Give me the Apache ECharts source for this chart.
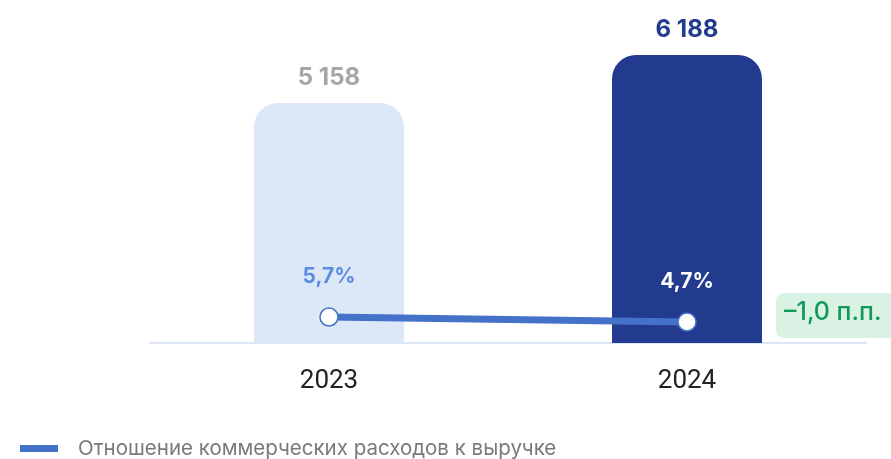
<!DOCTYPE html>
<html><head><meta charset="utf-8">
<script src="https://cdn.jsdelivr.net/npm/echarts@6/dist/echarts.min.js"></script>
<style>html,body{margin:0;padding:0;background:#fff}#c{width:891px;height:459px}</style>
</head><body><div id="c"></div>
<script>
const categories = ['2023', '2024'];
const expenses = [5158, 6188];
const ratio = [5.7, 4.7];
const ratioLabels = ['5,7%', '4,7%'];
const expenseLabels = ['5 158', '6 188'];
const changeLabel = '–1,0 п.п.';
const legendName = 'Отношение коммерческих расходов к выручке';

const barColors = ['#dce8f8', '#233b8f'];
const barLabelColors = ['#a6a6a6', '#233b8f'];
const ratioLabelColors = ['#5a8de0', '#ffffff'];

const chart = echarts.init(document.getElementById('c'));
chart.setOption({
  animation: false,
  grid: {left: 150, right: 25, top: 17.2, bottom: 116},
  legend: {
    left: 20, top: 438, itemWidth: 38, itemHeight: 7, itemGap: 10,
    icon: 'rect', padding: 0,
    itemStyle: {color: '#4472c8', borderWidth: 0},
    textStyle: {color: '#7a7a7a', fontSize: 20.5, fontFamily: 'Inter', padding: [0,0,0,15]},
    data: [{name: legendName, icon: 'rect', itemStyle: {color: '#4472c8', borderWidth: 0}}]
  },
  xAxis: {
    type: 'category', data: categories,
    axisLine: {lineStyle: {color: '#dde6f6', width: 2}},
    axisTick: {show: false},
    axisLabel: {color: '#222', fontSize: 26, fontFamily: 'Roboto', margin: 25}
  },
  yAxis: [
    {type: 'value', min: 0, max: 7000, show: false, splitLine: {show: false}},
    {type: 'value', min: 0.5, max: 65.66, show: false, splitLine: {show: false}}
  ],
  series: [
    {
      type: 'bar', name: 'Коммерческие расходы', barWidth: 150,
      data: expenses.map((v, i) => ({
        value: v,
        itemStyle: {color: barColors[i], borderRadius: [24, 24, 0, 0]},
        label: {show: true, position: 'top', distance: 13, formatter: expenseLabels[i],
          color: barLabelColors[i], fontSize: 24, fontWeight: 'bold', fontFamily: 'Inter'}
      })),
      z: 1
    },
    {
      type: 'line', name: legendName, yAxisIndex: 1,
      data: ratio.map((v, i) => ({
        value: v,
        label: {show: true, position: 'top', distance: 20, formatter: ratioLabels[i],
          color: ratioLabelColors[i], fontSize: 21, fontWeight: 'bold', fontFamily: 'Inter'}
      })),
      lineStyle: {color: '#4472c8', width: 7},
      itemStyle: {color: '#ffffff', borderColor: '#4472c8', borderWidth: 1.5},
      symbol: 'circle', symbolSize: 18,
      color: '#4472c8',
      z: 3
    }
  ],
  graphic: [
    {
      type: 'rect', left: 776, top: 293,
      shape: {width: 120, height: 45, r: 8},
      style: {fill: '#d9f2e3'}
    },
    {
      type: 'text', left: 784, top: 300,
      style: {text: changeLabel, fill: '#12995a', fontSize: 25, fontFamily: 'Inter', fontWeight: 500}
    }
  ]
});
</script></body></html>
